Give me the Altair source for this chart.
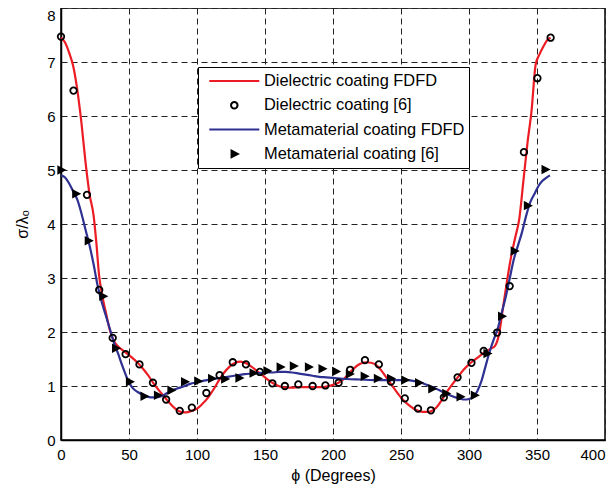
import altair as alt
import pandas as pd

series_names = ["Dielectric coating FDFD", "Dielectric coating [6]",
                "Metamaterial coating FDFD", "Metamaterial coating [6]"]

# Dielectric coating FDFD (red line)
diel_fdfd_phi = [0, 3, 6, 9, 12, 15, 18, 21, 24, 26, 28, 30, 33, 36, 39, 42, 45, 48, 52, 56, 60,
                 64, 68, 72, 76, 80, 84, 88, 92, 96, 100, 104, 108, 112, 116, 120, 124, 128, 132,
                 136, 140, 144, 148, 152, 156, 160, 165, 170, 175, 180, 185, 190, 195, 200, 204,
                 208, 212, 216, 220, 224, 228, 232, 236, 240, 244, 248, 252, 256, 260, 264, 268,
                 272, 276, 280, 284, 288, 292, 296, 300, 304, 308, 312, 316, 319, 322, 325, 328,
                 331, 334, 337, 340, 343, 346, 349, 352, 355, 358, 360]
diel_fdfd_val = [7.45, 7.36, 7.17, 6.92, 6.48, 5.88, 5.15, 4.55, 4.15, 3.65, 3.05, 2.72, 2.36, 2.03,
                 1.83, 1.73, 1.67, 1.61, 1.53, 1.44, 1.33, 1.2, 1.05, 0.92, 0.8, 0.68, 0.58, 0.52,
                 0.51, 0.54, 0.58, 0.67, 0.78, 0.93, 1.1, 1.25, 1.36, 1.43, 1.45, 1.42, 1.36, 1.28,
                 1.2, 1.12, 1.05, 1.0, 0.97, 0.97, 0.98, 0.98, 0.98, 0.98, 0.99, 1.02, 1.06, 1.13,
                 1.24, 1.34, 1.41, 1.44, 1.43, 1.38, 1.27, 1.13, 0.99, 0.85, 0.73, 0.64, 0.57, 0.53,
                 0.52, 0.53, 0.6, 0.74, 0.9, 1.04, 1.17, 1.3, 1.4, 1.48, 1.56, 1.63, 1.69, 1.74,
                 1.95, 2.45, 2.95, 3.4, 3.75, 4.1, 4.8, 5.5, 6.1, 6.95, 7.15, 7.3, 7.42, 7.45]

# Metamaterial coating FDFD (blue line)
meta_fdfd_phi = [0, 3, 6, 9, 12, 15, 18, 21, 24, 27, 30, 33, 36, 39, 42, 45, 48, 51, 54, 57, 60,
                 64, 68, 72, 76, 80, 85, 90, 95, 100, 105, 110, 115, 120, 125, 130, 135, 140, 145,
                 150, 155, 160, 165, 170, 175, 180, 185, 190, 195, 200, 210, 220, 230, 240, 250,
                 255, 260, 265, 270, 275, 280, 285, 290, 294, 297, 300, 303, 306, 309, 312, 315,
                 318, 321, 324, 327, 330, 333, 336, 339, 342, 345, 348, 351, 354, 357, 359.5]
meta_fdfd_val = [4.9, 4.86, 4.75, 4.6, 4.45, 4.2, 3.9, 3.6, 3.25, 2.85, 2.55, 2.3, 2.05, 1.8, 1.6,
                 1.38, 1.18, 1.02, 0.93, 0.88, 0.84, 0.8, 0.79, 0.8, 0.84, 0.9, 0.95, 0.99, 1.04,
                 1.07, 1.1, 1.12, 1.14, 1.16, 1.18, 1.2, 1.22, 1.23, 1.24, 1.25, 1.25, 1.26, 1.26,
                 1.25, 1.23, 1.21, 1.19, 1.17, 1.16, 1.15, 1.13, 1.12, 1.11, 1.11, 1.11, 1.11, 1.09,
                 1.06, 1.01, 0.96, 0.9, 0.84, 0.79, 0.76, 0.75, 0.76, 0.8, 0.9, 1.08, 1.35, 1.62,
                 1.85, 2.05, 2.35, 2.65, 3.0, 3.35, 3.6, 3.85, 4.15, 4.4, 4.55, 4.7, 4.8, 4.86, 4.9]

# Dielectric coating [6] (circles)
diel_ref_phi = [0, 9.2, 19.1, 28.1, 38.0, 47.5, 57.7, 67.6, 77.3, 87.3, 96.2, 106.9, 116.6, 126.3,
                136.0, 146.2, 155.4, 164.6, 174.5, 185.0, 194.4, 204.1, 212.6, 223.5, 233.7, 242.6,
                252.8, 262.5, 272.0, 281.5, 291.6, 301.8, 310.8, 320.7, 329.9, 340.4, 350.3, 360.0]
diel_ref_val = [7.47, 6.47, 4.54, 2.78, 1.89, 1.59, 1.40, 1.06, 0.75, 0.54, 0.60, 0.87, 1.20, 1.44,
                1.40, 1.26, 1.05, 1.00, 1.03, 1.00, 1.01, 1.06, 1.30, 1.48, 1.40, 1.08, 0.77, 0.58,
                0.55, 0.79, 1.16, 1.43, 1.65, 1.99, 2.85, 5.33, 6.70, 7.45]

# Metamaterial coating [6] (triangles)
meta_ref_phi = [0, 10.9, 20.1, 30.8, 40.2, 50.4, 61.1, 71.0, 80.9, 90.9, 100.6, 110.8, 120.4, 130.9,
                141.3, 151.5, 161.2, 170.9, 182.0, 192.0, 202.0, 212.1, 223.0, 232.7, 242.4, 252.8,
                263.0, 272.7, 283.0, 293.5, 304.0, 313.3, 324.0, 333.3, 343.0, 356.0]
meta_ref_val = [5.0, 4.56, 3.69, 2.66, 1.70, 1.08, 0.81, 0.83, 0.92, 1.08, 1.09, 1.14, 1.13, 1.15,
                1.24, 1.28, 1.35, 1.37, 1.35, 1.32, 1.27, 1.22, 1.18, 1.14, 1.14, 1.11, 1.06, 0.95,
                0.86, 0.80, 0.83, 1.60, 2.29, 3.50, 4.34, 5.01]

lines_df = pd.concat([
    pd.DataFrame({"series": series_names[0], "phi": diel_fdfd_phi, "rcs": diel_fdfd_val}),
    pd.DataFrame({"series": series_names[2], "phi": meta_fdfd_phi, "rcs": meta_fdfd_val}),
])
points_df = pd.concat([
    pd.DataFrame({"series": series_names[1], "phi": diel_ref_phi, "rcs": diel_ref_val}),
    pd.DataFrame({"series": series_names[3], "phi": meta_ref_phi, "rcs": meta_ref_val}),
])

circle_path = "M0.13,0A0.13,0.13,0,1,1,-0.13,0A0.13,0.13,0,1,1,0.13,0Z"
tri_path = "M-0.11,-0.13L0.14,0L-0.11,0.13Z"

stroke_scale = alt.Scale(domain=series_names, range=["#ec1c24", "#000000", "#2e3192", "#000000"])
fill_scale = alt.Scale(domain=series_names, range=["transparent", "transparent", "transparent", "#000000"])
shape_scale = alt.Scale(domain=series_names, range=["stroke", circle_path, "stroke", tri_path])

legend = alt.Legend(title=None, orient="none", legendX=137, legendY=59)

x_enc = alt.X("phi:Q", scale=alt.Scale(domain=[0, 400], nice=False),
              axis=alt.Axis(values=list(range(0, 401, 50)), title="ϕ (Degrees)",
                            labelFlush=False, labelPadding=7, titlePadding=5,
                            labelAlign={"condition": {"test": "datum.value == 400", "value": "right"},
                                        "value": "center"}))
y_enc = alt.Y("rcs:Q", scale=alt.Scale(domain=[0, 8], nice=False),
              axis=alt.Axis(values=list(range(0, 9)), title="σ/λₒ",
                            labelFlush=False, labelPadding=6, titlePadding=16,
                            labelBaseline={"condition": {"test": "datum.value == 8", "value": "top"},
                                           "value": "middle"}))

lines = alt.Chart(lines_df).mark_line(strokeWidth=2.2, interpolate="monotone").encode(
    x=x_enc, y=y_enc,
    stroke=alt.Stroke("series:N", scale=stroke_scale, legend=legend),
)

points = alt.Chart(points_df).mark_point(size=2500, strokeWidth=1.8, opacity=1).encode(
    x=x_enc, y=y_enc,
    stroke=alt.Stroke("series:N", scale=stroke_scale, legend=legend),
    fill=alt.Fill("series:N", scale=fill_scale, legend=legend),
    shape=alt.Shape("series:N", scale=shape_scale, legend=legend),
)

chart = alt.layer(lines, points).properties(
    width=544, height=432,
    autosize=alt.AutoSizeParams(type="none"),
    padding={"left": 53, "top": 0, "right": 2, "bottom": 45},
).configure_axis(
    grid=True, gridDash=[6, 4], gridColor="#222222", gridWidth=1, gridOpacity=1,
    ticks=False, tickSize=0, domainColor="#000000", domainWidth=1.5,
    labelFont="Liberation Sans", labelFontSize=15, labelColor="#000000",
    titleFont="Liberation Sans", titleFontSize=16, titleFontWeight="normal", titleColor="#000000",
).configure_view(
    stroke="#000000", strokeWidth=1.5,
).configure_legend(
    padding=4, clipHeight=20, rowPadding=4.3, symbolSize=2500, symbolStrokeWidth=2,
    symbolOffset=6.3, labelOffset=3.7, labelFontSize=16.4, labelFont="Liberation Sans",
    labelColor="#000000", fillColor="#ffffff", strokeColor="#000000", labelLimit=400,
)

chart.save("out.html", embed_options={"renderer": "svg", "actions": False})
